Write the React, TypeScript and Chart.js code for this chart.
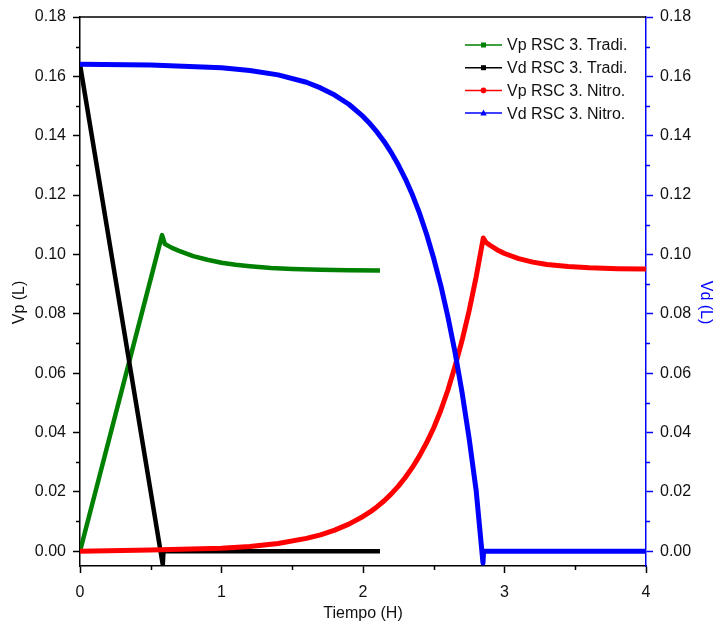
import React, { useEffect, useRef } from "react";
import { Chart, registerables } from "chart.js";

Chart.register(...registerables);

// ---- axis ticks ----
const xTickValues = [0, 1, 2, 3, 4];
const xMinorTicks = [0.5, 1.5, 2.5, 3.5];
const yTickValues = [0, 0.02, 0.04, 0.06, 0.08, 0.1, 0.12, 0.14, 0.16, 0.18];
const yMinorTicks = [0.01, 0.03, 0.05, 0.07, 0.09, 0.11, 0.13, 0.15, 0.17];

// ---- titles / labels ----
const xTitle = "Tiempo (H)";
const yLeftTitle = "Vp (L)";
const yRightTitle = "Vd (L)";
const seriesLabels = [
  "Vp RSC 3. Tradi.",
  "Vd RSC 3. Tradi.",
  "Vp RSC 3. Nitro.",
  "Vd RSC 3. Nitro.",
];

// ---- Vp RSC 3. Tradi. (green) ----
const vpTradiX = [0, 0.58, 0.6, 0.65, 0.7, 0.8, 0.9, 1.0, 1.1, 1.2, 1.35, 1.5, 1.7, 1.9, 2.12];
const vpTradiY = [0, 0.1065, 0.1035, 0.1022, 0.1012, 0.0994, 0.0982, 0.0972, 0.0965, 0.096, 0.0954, 0.0951, 0.0948, 0.0947, 0.0946];

// ---- Vd RSC 3. Tradi. (black) ----
const vdTradiX = [0, 0.585, 0.59, 2.12];
const vdTradiY = [0.164, -0.0045, 0, 0];

// ---- Vp RSC 3. Nitro. (red) ----
const vpNitroX = [0, 0.5, 1.0, 1.2, 1.4, 1.6, 1.7, 1.8, 1.9, 2.0, 2.05, 2.1, 2.15, 2.2, 2.25, 2.3, 2.35, 2.4, 2.45, 2.5, 2.55, 2.6, 2.65, 2.7, 2.75, 2.8, 2.85, 2.87, 2.9, 2.95, 3.0, 3.1, 3.2, 3.3, 3.45, 3.6, 3.8, 4.0];
const vpNitroY = [0, 0.0004, 0.001, 0.0016, 0.0026, 0.0043, 0.0055, 0.0071, 0.0091, 0.0117, 0.0132, 0.015, 0.017, 0.0193, 0.0219, 0.0249, 0.0283, 0.0322, 0.0366, 0.0416, 0.0475, 0.0543, 0.0622, 0.071, 0.081, 0.0925, 0.1055, 0.104, 0.103, 0.1015, 0.1003, 0.0986, 0.0974, 0.0966, 0.0959, 0.0955, 0.0952, 0.0951];

// ---- Vd RSC 3. Nitro. (blue) ----
const vdNitroX = [0, 0.5, 1.0, 1.2, 1.4, 1.6, 1.7, 1.8, 1.9, 2.0, 2.05, 2.1, 2.15, 2.2, 2.25, 2.3, 2.35, 2.4, 2.45, 2.5, 2.55, 2.6, 2.65, 2.7, 2.75, 2.8, 2.848, 2.852, 4.0];
const vdNitroY = [0.1641, 0.1638, 0.1629, 0.162, 0.1605, 0.158, 0.1561, 0.1537, 0.1506, 0.1465, 0.144, 0.1412, 0.138, 0.1343, 0.1301, 0.1254, 0.12, 0.1138, 0.1067, 0.0986, 0.0895, 0.079, 0.0671, 0.0535, 0.038, 0.0203, -0.004, 0, 0];

const seriesColors = ["#008000", "#000000", "#ff0000", "#0000ff"];
const markerStyles = ["rect", "rect", "circle", "triangle"];

const FONT_FAMILY = "'Liberation Sans', Arial, sans-serif";

const toPoints = (xs: number[], ys: number[]) => xs.map((x, i) => ({ x, y: ys[i] }));

const decorPlugin = {
  id: "decor",
  afterDraw(chart: any) {
    const ctx = chart.ctx as CanvasRenderingContext2D;
    const { left, right, top, bottom } = chart.chartArea;
    const xs = chart.scales.x;
    const ys = chart.scales.y;
    ctx.save();
    // top frame line
    ctx.strokeStyle = "#000";
    ctx.lineWidth = 1.5;
    ctx.beginPath();
    ctx.moveTo(left, top);
    ctx.lineTo(right, top);
    ctx.stroke();
    // minor ticks
    ctx.beginPath();
    xMinorTicks.forEach((v) => {
      const px = Math.round(xs.getPixelForValue(v)) + 0.5;
      ctx.moveTo(px, bottom);
      ctx.lineTo(px, bottom + 4);
    });
    yMinorTicks.forEach((v) => {
      const py = Math.round(ys.getPixelForValue(v)) + 0.5;
      ctx.moveTo(left - 4, py);
      ctx.lineTo(left, py);
    });
    ctx.stroke();
    ctx.strokeStyle = "#0000ff";
    ctx.beginPath();
    yMinorTicks.forEach((v) => {
      const py = Math.round(ys.getPixelForValue(v)) + 0.5;
      ctx.moveTo(right, py);
      ctx.lineTo(right + 4, py);
    });
    ctx.stroke();

    // y-axis titles
    const midY = (top + bottom) / 2 + 11;
    ctx.font = `16px ${FONT_FAMILY}`;
    ctx.textAlign = "center";
    ctx.textBaseline = "middle";
    ctx.fillStyle = "#111";
    ctx.save();
    ctx.translate(20, midY);
    ctx.rotate(-Math.PI / 2);
    ctx.fillText(yLeftTitle, 0, 0);
    ctx.restore();
    ctx.fillStyle = "#0000ff";
    ctx.save();
    ctx.translate(chart.width - 8, midY);
    ctx.rotate(Math.PI / 2);
    ctx.fillText(yRightTitle, 0, 0);
    ctx.restore();

    // legend
    const lx0 = right - 181;
    const lx1 = right - 144;
    const tx = right - 139;
    const y0 = top + 28;
    const dy = 22.7;
    ctx.textAlign = "left";
    chart.data.datasets.forEach((ds: any, i: number) => {
      const yy = y0 + i * dy;
      const color = seriesColors[i];
      ctx.strokeStyle = color;
      ctx.fillStyle = color;
      ctx.lineWidth = 1.5;
      ctx.beginPath();
      ctx.moveTo(lx0, yy);
      ctx.lineTo(lx1, yy);
      ctx.stroke();
      const cx = (lx0 + lx1) / 2;
      const m = markerStyles[i];
      ctx.beginPath();
      if (m === "rect") {
        ctx.rect(cx - 2.5, yy - 2.5, 5, 5);
      } else if (m === "circle") {
        ctx.arc(cx, yy, 2.8, 0, Math.PI * 2);
      } else {
        ctx.moveTo(cx, yy - 3.5);
        ctx.lineTo(cx + 3.2, yy + 2.3);
        ctx.lineTo(cx - 3.2, yy + 2.3);
        ctx.closePath();
      }
      ctx.fill();
      ctx.fillStyle = "#111";
      ctx.fillText(ds.label, tx, yy + 1);
    });
    ctx.restore();
  },
};

export default function App() {
  const canvasRef = useRef<HTMLCanvasElement | null>(null);

  useEffect(() => {
    const canvas = canvasRef.current;
    if (!canvas) return;
    const tickFont = { family: FONT_FAMILY, size: 16 };
    const setY = (scale: any) => {
      scale.ticks = yTickValues.map((v) => ({ value: v }));
    };
    const chart = new Chart(canvas, {
      type: "line",
      data: {
        datasets: [
          { label: seriesLabels[0], data: toPoints(vpTradiX, vpTradiY), borderColor: seriesColors[0], borderWidth: 4.5, yAxisID: "y", order: 4 },
          { label: seriesLabels[1], data: toPoints(vdTradiX, vdTradiY), borderColor: seriesColors[1], borderWidth: 4.5, yAxisID: "y1", order: 3 },
          { label: seriesLabels[2], data: toPoints(vpNitroX, vpNitroY), borderColor: seriesColors[2], borderWidth: 5, yAxisID: "y", order: 2 },
          { label: seriesLabels[3], data: toPoints(vdNitroX, vdNitroY), borderColor: seriesColors[3], borderWidth: 5, yAxisID: "y1", order: 1 },
        ],
      },
      options: {
        responsive: false,
        devicePixelRatio: 1,
        animation: false,
        layout: { padding: { top: 17, left: 0, right: 0, bottom: 0 } },
        elements: { point: { radius: 0 }, line: { tension: 0, fill: false, borderJoinStyle: "round" } },
        plugins: { legend: { display: false }, tooltip: { enabled: false } },
        scales: {
          x: {
            type: "linear",
            position: "bottom",
            min: 0,
            max: 4,
            afterBuildTicks: (scale: any) => {
              scale.ticks = xTickValues.map((v) => ({ value: v }));
            },
            afterFit: (scale: any) => {
              scale.height = 58;
            },
            ticks: { font: tickFont, color: "#111", padding: 10, autoSkip: false, maxRotation: 0, callback: (v: any) => String(v) },
            grid: { drawOnChartArea: false, drawTicks: true, tickLength: 7, tickColor: "#000", tickWidth: 1.5 },
            border: { color: "#000", width: 1.5 },
            title: { display: true, text: xTitle, font: tickFont, color: "#111", padding: { top: 0, bottom: 1 } },
          },
          y: {
            type: "linear",
            position: "left",
            min: -0.005,
            max: 0.18,
            afterBuildTicks: setY,
            afterFit: (scale: any) => {
              scale.width = 80;
            },
            ticks: { font: tickFont, color: "#111", padding: 7, autoSkip: false, callback: (v: any) => Number(v).toFixed(2) },
            grid: { drawOnChartArea: false, drawTicks: true, tickLength: 7, tickColor: "#000", tickWidth: 1.5 },
            border: { color: "#000", width: 1.5 },
          },
          y1: {
            type: "linear",
            position: "right",
            min: -0.005,
            max: 0.18,
            afterBuildTicks: setY,
            afterFit: (scale: any) => {
              scale.width = 67;
            },
            ticks: { font: tickFont, color: "#111", padding: 7, autoSkip: false, callback: (v: any) => Number(v).toFixed(2) },
            grid: { drawOnChartArea: false, drawTicks: true, tickLength: 7, tickColor: "#0000ff", tickWidth: 1.5 },
            border: { color: "#0000ff", width: 1.5 },
          },
        },
      },
      plugins: [decorPlugin],
    } as any);
    return () => chart.destroy();
  }, []);

  return (
    <div style={{ position: "absolute", left: 0, top: 0, width: 713, height: 624 }}>
      <canvas ref={canvasRef} width={713} height={624} style={{ display: "block" }} />
    </div>
  );
}
